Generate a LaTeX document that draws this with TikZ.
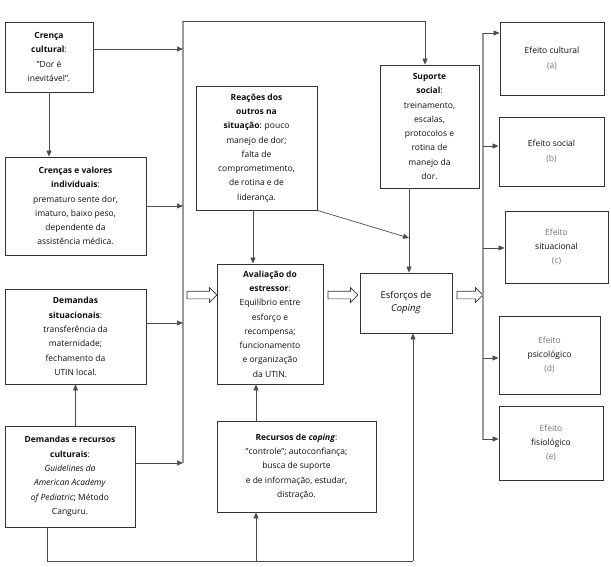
\documentclass[tikz,border=0pt]{standalone}
\usepackage{fontspec}
\setmainfont{Open Sans}
\usetikzlibrary{arrows.meta,shapes.arrows}

\tikzset{
    box/.style={draw=black!80, line width=0.8pt, align=center, inner sep=2pt,
        font=\fontsize{8.5}{14.3}\selectfont, text=black!95},
    arr/.style={draw=black!70, line width=0.7pt, -{Triangle[length=6pt,width=5pt]}},
    line/.style={draw=black!70, line width=0.7pt},
    bus/.style={draw=black!40, line width=1.1pt},
    hollow/.style={single arrow, draw=black!80, line width=0.7pt, fill=white,
        minimum height=30pt, minimum width=14pt, single arrow head extend=3.5pt,
        inner xsep=0pt, inner ysep=3.5pt},
}

\begin{document}
\begin{tikzpicture}[x=1pt, y=-1pt]
    \useasboundingbox (0,0) rectangle (611,567);

    % left column
    \node[box, minimum width=88pt, minimum height=70pt] (crenca) at (49,57)
        {\textbf{Crença}\\\textbf{cultural}:\\”Dor é\\inevitável”.};
    \node[box, minimum width=141pt, minimum height=98pt] (valores) at (75.5,206)
        {\textbf{Crenças e valores}\\\textbf{individuais}:\\prematuro sente dor,\\imaturo, baixo peso,\\dependente da\\assistência médica.};
    \node[box, minimum width=141pt, minimum height=95pt] (sit) at (75.5,336.5)
        {\textbf{Demandas}\\\textbf{situacionais}:\\transferência da\\maternidade;\\fechamento da\\UTIN local.};
    \node[box, minimum width=130pt, minimum height=101pt] (cult) at (70,476.5)
        {\textbf{Demandas e recursos}\\\textbf{culturais}:\\\textit{Guidelines da}\\\textit{American Academy}\\\textit{of Pediatric}; Método\\Canguru.};

    % middle
    \node[box, minimum width=121pt, minimum height=124pt] (reacoes) at (256.5,148)
        {\textbf{Reações dos}\\\textbf{outros na}\\\textbf{situação}: pouco\\manejo de dor;\\falta de\\comprometimento,\\de rotina e de\\liderança.};
    \node[box, minimum width=106pt, minimum height=120pt] (aval) at (270,324)
        {\textbf{Avaliação do}\\\textbf{estressor}:\\Equilíbrio entre\\esforço e\\recompensa;\\funcionamento\\e organização\\da UTIN.};
    \node[box, minimum width=159pt, minimum height=91pt] (recursos) at (296.5,466.5)
        {\textbf{Recursos de \textit{coping}}:\\"controle"; autoconfiança;\\busca de suporte\\e de informação, estudar,\\distração.};
    \node[box, minimum width=99pt, minimum height=123pt] (suporte) at (429.5,126.5)
        {\textbf{Suporte}\\\textbf{social}:\\treinamento,\\escalas,\\protocolos e\\rotina de\\manejo da\\dor.};
    \node[box, minimum width=92pt, minimum height=60pt, font=\fontsize{9.5}{13}\selectfont] (esforcos) at (406,303)
        {Esforços de\\\textit{Coping}};

    % effects
    \node[box, minimum width=104pt, minimum height=73pt] (ef1) at (552,58.5)
        {Efeito cultural\\\textcolor{black!55}{(a)}};
    \node[box, minimum width=105pt, minimum height=69pt] (ef2) at (551.5,151.5)
        {Efeito social\\\textcolor{black!55}{(b)}};
    \node[box, minimum width=103pt, minimum height=72pt] (ef3) at (556.5,247)
        {\textcolor{black!55}{Efeito}\\situacional\\\textcolor{black!55}{(c)}};
    \node[box, minimum width=101pt, minimum height=78pt] (ef4) at (549.5,355)
        {\textcolor{black!55}{Efeito}\\psicológico\\\textcolor{black!55}{(d)}};
    \node[box, minimum width=104pt, minimum height=74pt] (ef5) at (551,443)
        {\textcolor{black!55}{Efeito}\\fisiológico\\\textcolor{black!55}{(e)}};

    % left bus
    \coordinate (btop) at (183,21);
    \coordinate (bbot) at (183,463);
    \coordinate (corner) at (425,21);
    \draw[bus] (bbot) -- (btop);
    \draw[line] (btop) -- (corner);
    \draw[arr] (corner) -- (corner |- suporte.north);
    \draw[arr] ([yshift=8pt]crenca.east) -- ([yshift=8pt]crenca.east -| btop);
    \draw[arr] (valores.east) -- (valores.east -| btop);
    \draw[arr] ([yshift=13.5pt]sit.east) -- ([yshift=13.5pt]sit.east -| btop);
    \draw[arr] ([yshift=13.5pt]cult.east) -- (bbot);

    \draw[arr] (crenca.south) -- (crenca.south |- valores.north);
    \draw[arr] (cult.north -| sit.south) -- (sit.south);

    % bottom line
    \coordinate (b1) at (47,561);
    \coordinate (b2) at (413,561);
    \coordinate (b3) at (256,561);
    \draw[line] (cult.south -| b1) -- (b1) -- (b2);
    \draw[arr] (b2) -- (b2 |- esforcos.south);
    \draw[arr] (b3) -- (b3 |- recursos.south);
    \draw[arr] (b3 |- recursos.north) -- (b3 |- aval.south);

    \coordinate (ra) at (253,237);
    \draw[arr] (ra |- reacoes.south) -- (ra |- aval.north);
    \coordinate (sx) at (409,238);
    \draw[arr] (sx |- suporte.south) -- (sx |- esforcos.north);
    \draw[arr] (reacoes.south east) -- (sx);

    % hollow arrows
    \node[hollow] (h1) at (200,295) {};
    \node[hollow] (h2) at (341,295) {};
    \node[hollow, minimum height=26pt] (h3) at (468,295) {};

    % right bus
    \coordinate (rtop) at (483,33);
    \coordinate (rbot) at (483,440);
    \draw[bus] (rtop) -- (rbot);
    \foreach \n/\y in {ef1/33, ef2/146, ef3/248, ef4/358, ef5/439} {
        \coordinate (r\n) at (483,\y);
        \draw[arr] (r\n) -- (r\n -| \n.west);
    }
\end{tikzpicture}
\end{document}
